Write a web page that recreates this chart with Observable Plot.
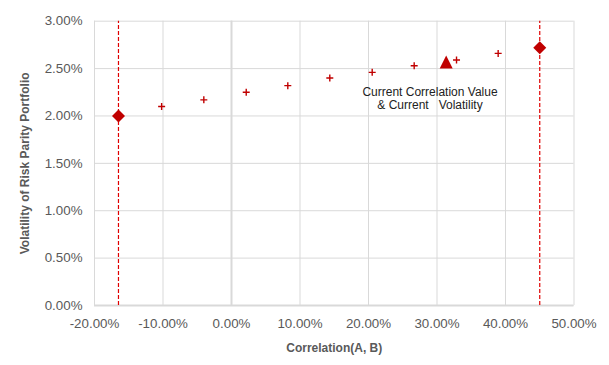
<!DOCTYPE html>
<html>
<head>
<meta charset="utf-8">
<script src="https://cdn.jsdelivr.net/npm/d3@7"></script>
<script src="https://cdn.jsdelivr.net/npm/@observablehq/plot@0.6"></script>
<style>
  html, body { margin: 0; padding: 0; background: #fff; }
</style>
</head>
<body>
<div id="chart"></div>
<script>
// Data (values in percent)
const xTicks = [-20, -10, 0, 10, 20, 30, 40, 50];
const yTicks = [0, 0.5, 1.0, 1.5, 2.0, 2.5, 3.0];

const crossCorr = [-10.2, -4.04, 2.15, 8.22, 14.35, 20.54, 26.67, 32.85, 38.93];
const crossVol  = [2.10, 2.17, 2.25, 2.32, 2.40, 2.46, 2.53, 2.59, 2.66];

const endCorr = [-16.5, 45.0];
const endVol  = [2.00, 2.72];

const currentCorr = [31.34];
const currentVol  = [2.57];

const annotation = ["Current Correlation Value\n& Current\u00a0\u00a0\u00a0Volatility"];
const annotationX = [28.98];
const annotationY = [2.19];

const xLabel = "Correlation(A, B)";
const yLabel = "Volatility of Risk Parity Portfolio";

const crosses = crossCorr.map((c, i) => ({c, v: crossVol[i]}));
const ends = endCorr.map((c, i) => ({c, v: endVol[i]}));
const current = currentCorr.map((c, i) => ({c, v: currentVol[i]}));
const notes = annotation.map((t, i) => ({t, c: annotationX[i], v: annotationY[i]}));

const pct = d => d.toFixed(2) + "%";

const plusSym = {draw(ctx, size) {
  const r = Math.sqrt(size / Math.PI);
  ctx.moveTo(-r, 0); ctx.lineTo(r, 0);
  ctx.moveTo(0, -r); ctx.lineTo(0, r);
}};
const diamondSym = {draw(ctx, size) {
  const r = Math.sqrt(size / Math.PI);
  ctx.moveTo(0, -r); ctx.lineTo(r, 0); ctx.lineTo(0, r); ctx.lineTo(-r, 0); ctx.closePath();
}};
const triSym = {draw(ctx, size) {
  const r = Math.sqrt(size / Math.PI);
  ctx.moveTo(0, -r); ctx.lineTo(r, r); ctx.lineTo(-r, r); ctx.closePath();
}};

const red = "#C00000";
const grid = "#d9d9d9";

const chart = Plot.plot({
  width: 609,
  height: 365,
  marginLeft: 94,
  marginRight: 35.5,
  marginTop: 20.7,
  marginBottom: 60,
  x: {domain: [-20, 50]},
  y: {domain: [0, 3]},
  style: {
    fontFamily: "'Liberation Sans', Arial, sans-serif",
    fontSize: "13.33px",
    color: "#595959",
    background: "#fff"
  },
  marks: [
    Plot.gridX(xTicks, {stroke: grid, strokeOpacity: 1}),
    Plot.gridY(yTicks, {stroke: grid, strokeOpacity: 1}),
    Plot.ruleX([0], {stroke: grid, strokeWidth: 2}),
    Plot.ruleY([0], {stroke: grid, strokeWidth: 2}),
    Plot.axisX(xTicks, {tickSize: 0, tickPadding: 13, tickFormat: pct, label: null, fill: "#595959"}),
    Plot.axisY(yTicks, {tickSize: 0, tickPadding: 12, tickFormat: pct, label: null, fill: "#595959"}),
    Plot.ruleX(endCorr, {y1: 0, y2: 3, stroke: "#e00000", strokeWidth: 1.2, strokeDasharray: "4,2"}),
    Plot.dot(crosses, {x: "c", y: "v", symbol: plusSym, r: 3.5, fill: "none", stroke: red, strokeWidth: 1.4}),
    Plot.dot(ends, {x: "c", y: "v", symbol: diamondSym, r: 6.5, fill: red, stroke: "none"}),
    Plot.dot(current, {x: "c", y: "v", symbol: triSym, r: 6.5, fill: red, stroke: "none"}),
    Plot.text(notes, {x: "c", y: "v", text: "t", fill: "#222", fontSize: 12, lineHeight: 1.1, textAnchor: "middle"}),
    Plot.text([xLabel], {frameAnchor: "bottom", dy: 43, textAnchor: "middle", lineAnchor: "middle", fill: "#595959", fontSize: 12, fontWeight: "bold"}),
    Plot.text([yLabel], {frameAnchor: "left", dx: -69, rotate: -90, textAnchor: "middle", lineAnchor: "middle", fill: "#595959", fontSize: 12, fontWeight: "bold"})
  ]
});

document.getElementById("chart").appendChild(chart);
</script>
</body>
</html>
